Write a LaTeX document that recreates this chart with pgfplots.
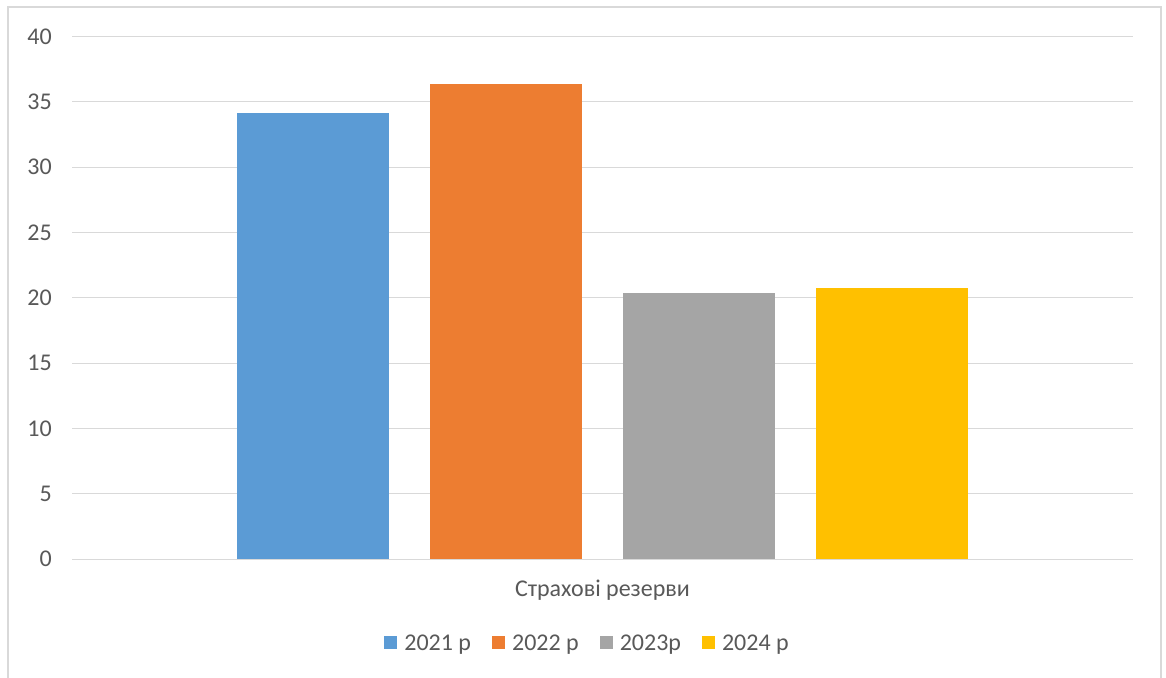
\documentclass[border=0pt]{standalone}
\usepackage{fontspec}
\setmainfont{Carlito}
\usepackage{pgfplots}
\pgfplotsset{compat=1.18}
\definecolor{cA}{HTML}{5B9BD5}
\definecolor{cB}{HTML}{ED7D31}
\definecolor{cC}{HTML}{A5A5A5}
\definecolor{cD}{HTML}{FFC000}
\definecolor{gridgray}{HTML}{D9D9D9}
\definecolor{labelgray}{HTML}{595959}
\pgfplotsset{sqleg/.style={legend image code/.code={\fill[##1] (0pt,-6.5pt) rectangle (13pt,6.5pt);}}}
\begin{document}
\begin{tikzpicture}
\useasboundingbox (0pt,0pt) rectangle (1166pt,677pt);
\fill[white] (0pt,0pt) rectangle (1166pt,677pt);
\draw[gridgray, line width=1.5pt] (8pt,-5pt) -- (8pt,670pt) -- (1161pt,670pt) -- (1161pt,-5pt);
\begin{axis}[
  at={(72pt,118pt)}, anchor=south west,
  scale only axis, width=1061pt, height=522.3pt,
  xmin=-2.75, xmax=2.75, ymin=0, ymax=40,
  ybar, bar width=0.788,
  xtick={0}, xticklabels={Страхові резерви},
  ytick={0,5,...,40},
  ymajorgrids, grid style={draw=gridgray, line width=1pt},
  axis line style={draw=none},
  major tick length=0pt,
  /pgf/number format/assume math mode=true,
  tick label style={text=labelgray, font=\fontsize{24}{28}\selectfont, inner sep=0pt},
  yticklabel style={anchor=east, xshift=-20pt},
  xticklabel style={anchor=base, yshift=-37pt},
  legend columns=4,
  legend style={draw=none, fill=none, at={(0.485,-0.1608)}, anchor=center,
    nodes={inner sep=0pt, text=labelgray, font=\fontsize{24}{28}\selectfont},
    /tikz/every odd column/.append style={column sep=7pt},
    /tikz/every even column/.append style={column sep=21pt}},
]
\addplot[fill=cA, draw=none, bar shift=-1.5, sqleg] coordinates {(0,34.13)};
\addlegendentry{2021 р}
\addplot[fill=cB, draw=none, bar shift=-0.5, sqleg] coordinates {(0,36.37)};
\addlegendentry{2022 р}
\addplot[fill=cC, draw=none, bar shift=0.5, sqleg] coordinates {(0,20.34)};
\addlegendentry{2023р}
\addplot[fill=cD, draw=none, bar shift=1.5, sqleg] coordinates {(0,20.75)};
\addlegendentry{2024 р}
\end{axis}
\end{tikzpicture}
\end{document}
